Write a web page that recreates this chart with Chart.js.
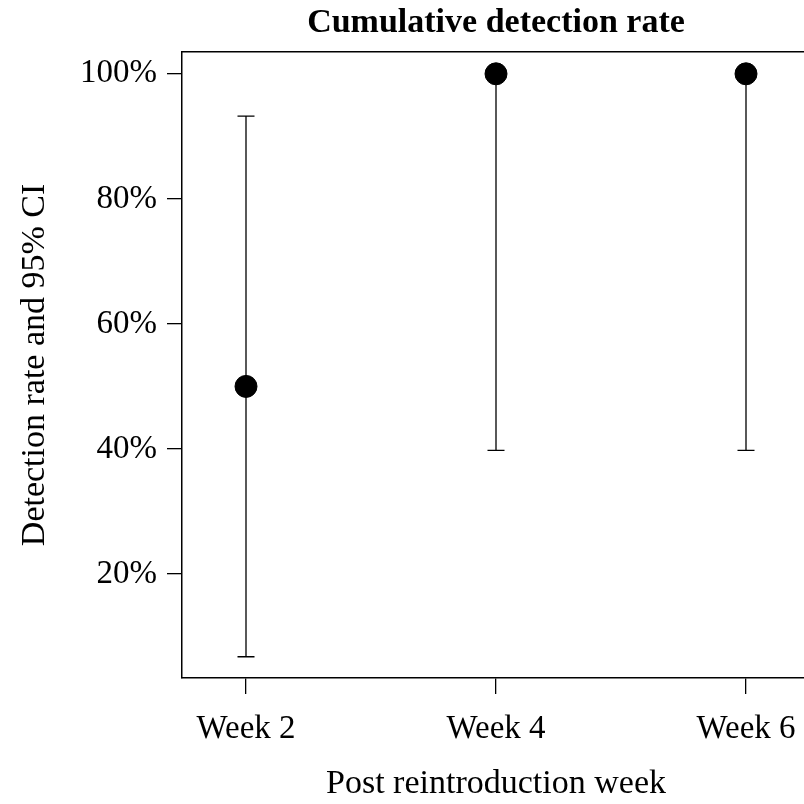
<!DOCTYPE html>
<html>
<head>
<meta charset="utf-8">
<script src="https://cdn.jsdelivr.net/npm/chart.js@4"></script>
<style>
  html, body { margin: 0; padding: 0; background: #fff; overflow: hidden; }
  #wrap { width: 804px; height: 804px; overflow: hidden; }
</style>
</head>
<body>
<div id="wrap"><canvas id="detChart" width="992" height="804"></canvas></div>
<script>
const weeks = [2, 4, 6];
const weekLabels = ["Week 2", "Week 4", "Week 6"];
const rates = [50, 100, 100];
const ciLower = [6.76, 39.76, 39.76];
const ciUpper = [93.24, 100, 100];
const yTicks = [20, 40, 60, 80, 100];

const serif = "'Liberation Serif', 'Times New Roman', serif";

// error bars + top frame line (the figure is cropped on the right)
const errorBars = {
  id: "errorBars",
  beforeDatasetsDraw(chart) {
    const { ctx, scales: { x, y } } = chart;
    ctx.save();
    ctx.strokeStyle = "#000";
    ctx.lineWidth = 1.3;
    weeks.forEach((w, i) => {
      const px = x.getPixelForValue(w);
      const lo = y.getPixelForValue(ciLower[i]);
      const hi = y.getPixelForValue(ciUpper[i]);
      ctx.beginPath();
      ctx.moveTo(px, lo);
      ctx.lineTo(px, hi);
      ctx.moveTo(px - 8.5, lo);
      ctx.lineTo(px + 8.5, lo);
      ctx.moveTo(px - 8.5, hi);
      ctx.lineTo(px + 8.5, hi);
      ctx.stroke();
    });
    ctx.restore();
  },
  afterDraw(chart) {
    const { ctx, chartArea } = chart;
    ctx.save();
    ctx.strokeStyle = "#000";
    ctx.lineWidth = 1.5;
    ctx.beginPath();
    ctx.moveTo(chartArea.left, chartArea.top);
    ctx.lineTo(chartArea.right, chartArea.top);
    ctx.stroke();
    ctx.restore();
  }
};

const ctx = document.getElementById("detChart").getContext("2d");
new Chart(ctx, {
  type: "scatter",
  data: {
    datasets: [{
      label: "Detection rate",
      data: weeks.map((w, i) => ({ x: w, y: rates[i] })),
      backgroundColor: "#000",
      borderColor: "#000",
      pointRadius: 11,
      pointHoverRadius: 11
    }]
  },
  options: {
    responsive: false,
    animation: false,
    layout: { padding: 0 },
    plugins: {
      legend: { display: false },
      tooltip: { enabled: false },
      title: {
        display: true,
        text: "Cumulative detection rate",
        color: "#000",
        font: { family: serif, size: 34, weight: "bold" },
        padding: { top: 3, bottom: 8 }
      },
      // x axis title, centred on the whole (uncropped) figure
      subtitle: {
        display: true,
        position: "bottom",
        text: "Post reintroduction week",
        color: "#000",
        font: { family: serif, size: 34 },
        padding: { top: 0, bottom: 0 }
      }
    },
    scales: {
      x: {
        type: "linear",
        min: 1.488,
        max: 7.872,
        afterBuildTicks: s => { s.ticks = weeks.map(v => ({ value: v })); },
        afterFit: s => { s.height = 85.2; s.paddingLeft = 0; s.paddingRight = 0; },
        ticks: {
          color: "#000",
          font: { family: serif, size: 33 },
          padding: 16,
          maxRotation: 0,
          callback: v => weekLabels[weeks.indexOf(v)]
        },
        grid: { drawOnChartArea: false, drawTicks: true, tickLength: 16, color: "#000", lineWidth: 1.3 },
        border: { display: true, color: "#000", width: 1.5 }
      },
      y: {
        min: 3.36,
        max: 103.52,
        afterBuildTicks: s => { s.ticks = yTicks.map(v => ({ value: v })); },
        afterFit: s => { s.width = 182; s.paddingTop = 0; s.paddingBottom = 0; },
        ticks: {
          color: "#000",
          font: { family: serif, size: 33 },
          padding: 10,
          callback: v => v + "%"
        },
        grid: { drawOnChartArea: false, drawTicks: true, tickLength: 15, color: "#000", lineWidth: 1.3 },
        border: { display: true, color: "#000", width: 1.5 },
        title: {
          display: true,
          text: "Detection rate and 95% CI",
          color: "#000",
          font: { family: serif, size: 34 },
          padding: { top: 15, bottom: 0 }
        }
      }
    }
  },
  plugins: [errorBars]
});
</script>
</body>
</html>
